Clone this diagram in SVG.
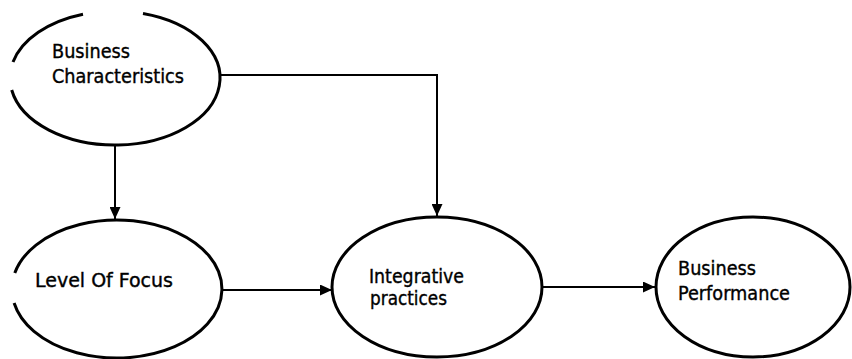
<svg xmlns="http://www.w3.org/2000/svg" width="852" height="359" viewBox="0 0 852 359">
<defs>
<style>
.node{fill:none;stroke:#000;stroke-width:3}
.lbl{font-family:"DejaVu Sans Condensed","Liberation Sans",sans-serif;font-size:19px;fill:#000;stroke:#000;stroke-width:0.35}
.conn{fill:none;stroke:#000;stroke-width:2}
</style>
<marker id="ah" viewBox="0 0 12 11" refX="12" refY="5.5" markerWidth="12" markerHeight="11" markerUnits="userSpaceOnUse" orient="auto">
<path d="M0,0 L12,5.5 L0,11 Z" fill="#000"/>
</marker>
</defs>
<rect width="852" height="359" fill="#fff"/>
<g id="business-characteristics">
<path class="node" d="M143,13.4 A105,67 0 1 1 11.7,90 M13,62 A105,67 0 0 1 83,14.2"/>
<text class="lbl" x="52" y="58" textLength="78" lengthAdjust="spacingAndGlyphs">Business</text>
<text class="lbl" x="52" y="83" textLength="132" lengthAdjust="spacingAndGlyphs">Characteristics</text>
</g>
<g id="level-of-focus">
<path class="node" d="M14.1,303 A105,69 0 1 0 14.8,273"/>
<text class="lbl" x="35" y="287" textLength="138" lengthAdjust="spacingAndGlyphs">Level Of Focus</text>
</g>
<g id="integrative-practices">
<ellipse class="node" cx="437" cy="287" rx="105" ry="70"/>
<text class="lbl" x="369" y="283" textLength="95" lengthAdjust="spacingAndGlyphs">Integrative</text>
<text class="lbl" x="370" y="305" textLength="77" lengthAdjust="spacingAndGlyphs">practices</text>
</g>
<g id="business-performance">
<ellipse class="node" cx="753" cy="287" rx="97" ry="70"/>
<text class="lbl" x="678" y="275" textLength="78" lengthAdjust="spacingAndGlyphs">Business</text>
<text class="lbl" x="678" y="300" textLength="112" lengthAdjust="spacingAndGlyphs">Performance</text>
</g>
<g id="connectors">
<path class="conn" d="M115,145 L115,219" marker-end="url(#ah)"/>
<path class="conn" d="M220,75 L437,75 L437,216" marker-end="url(#ah)"/>
<path class="conn" d="M221,290 L332,290" marker-end="url(#ah)"/>
<path class="conn" d="M543,287 L655,287" marker-end="url(#ah)"/>
</g>
</svg>
